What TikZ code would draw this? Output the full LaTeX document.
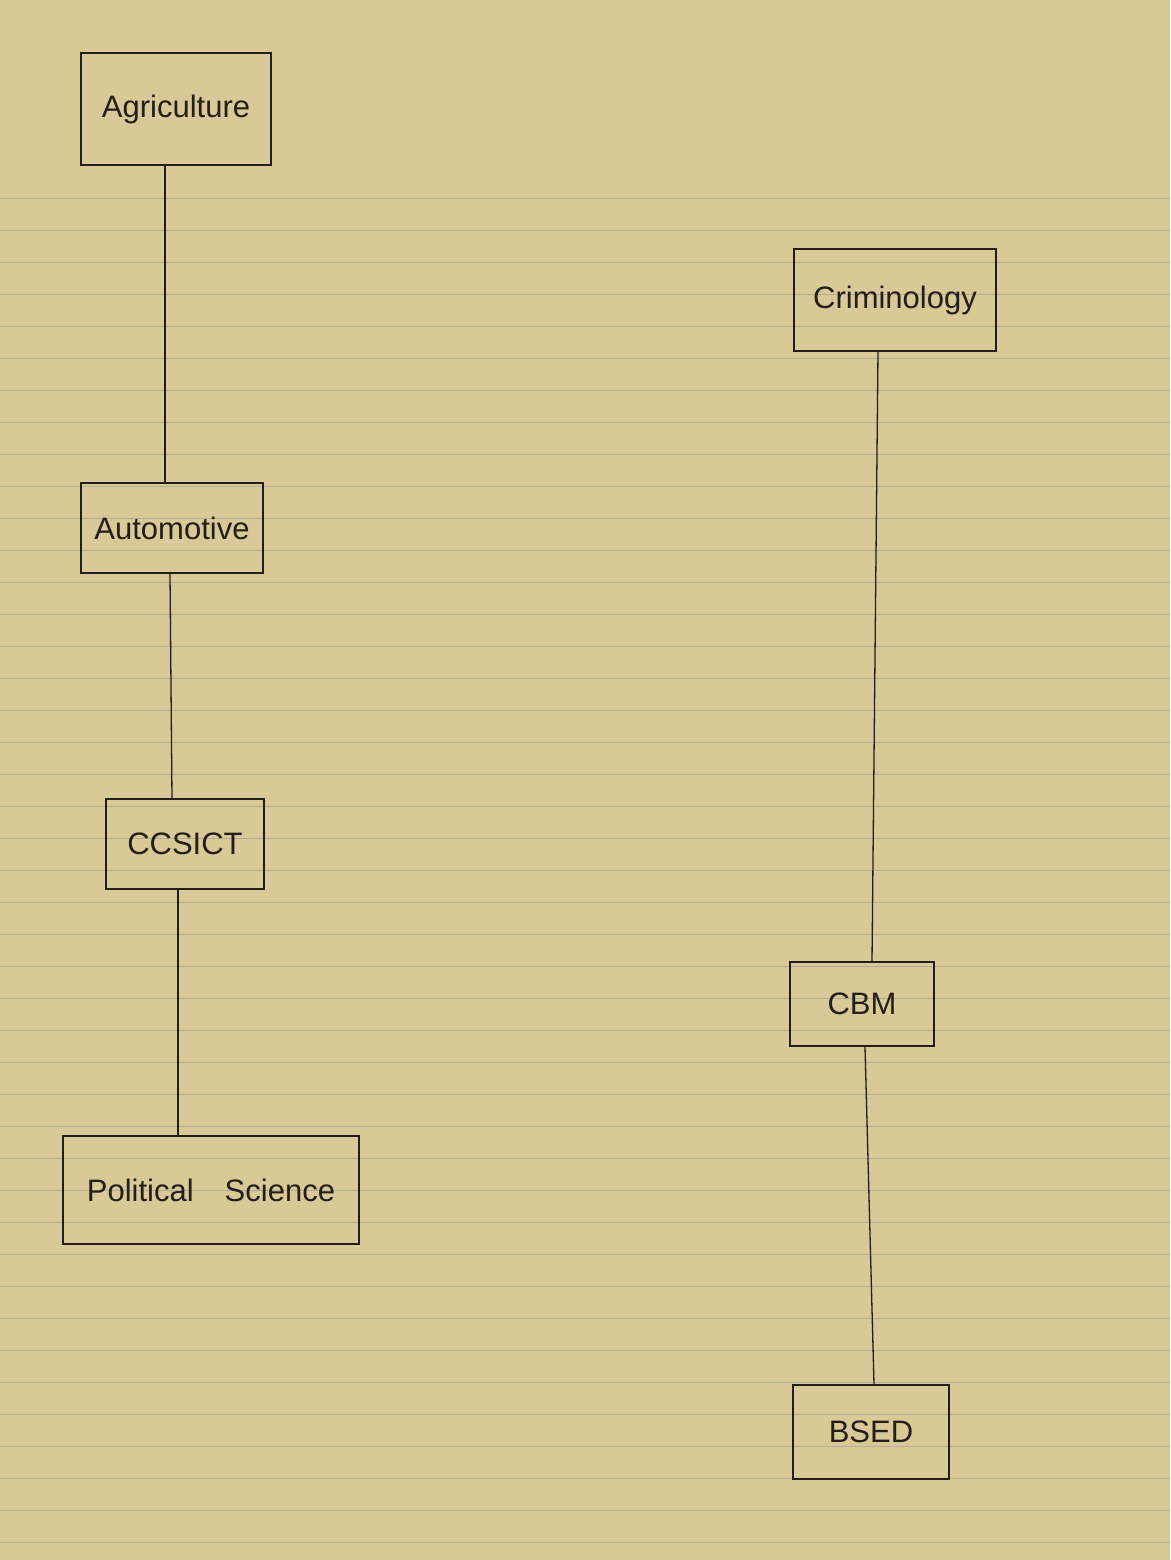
\documentclass[tikz,border=0pt]{standalone}
\usepackage{fontspec}
\setmainfont{Liberation Sans}
\definecolor{paper}{RGB}{216,201,150}
\definecolor{rule}{RGB}{178,172,152}
\definecolor{ink}{RGB}{35,30,25}
\begin{document}
\begin{tikzpicture}[x=1pt,y=-1pt,
  box/.style={draw=ink,line width=1.6pt,inner sep=0pt,font=\fontsize{31}{36}\selectfont,text=ink},
  link/.style={draw=ink,line width=1.3pt}]
\useasboundingbox (0,0) rectangle (1170,1560);
\fill[paper] (0,0) rectangle (1170,1560);
\foreach \y in {198,230,262,...,1550} \draw[rule,line width=0.8pt] (0,\y) -- (1170,\y);
\node[box,minimum width=190pt,minimum height=112pt] (agri) at (176,109) {Agriculture};
\node[box,minimum width=182pt,minimum height=90pt] (auto) at (172,528) {Automotive};
\node[box,minimum width=158pt,minimum height=90pt] (ccs) at (185,844) {CCSICT};
\node[box,minimum width=296pt,minimum height=108pt] (pol) at (211,1190) {Political\quad Science};
\node[box,minimum width=202pt,minimum height=102pt] (crim) at (895,300) {Criminology};
\node[box,minimum width=144pt,minimum height=84pt] (cbm) at (862,1004) {CBM};
\node[box,minimum width=156pt,minimum height=94pt] (bsed) at (871,1432) {BSED};
\draw[link] ([xshift=-11pt]agri.south) -- ([xshift=-7pt]auto.north);
\draw[link] ([xshift=-2pt]auto.south) -- ([xshift=-13pt]ccs.north);
\draw[link] ([xshift=-7pt]ccs.south) -- ([xshift=-33pt]pol.north);
\draw[link] ([xshift=-17pt]crim.south) -- ([xshift=10pt]cbm.north);
\draw[link] ([xshift=3pt]cbm.south) -- ([xshift=3pt]bsed.north);
\end{tikzpicture}
\end{document}
